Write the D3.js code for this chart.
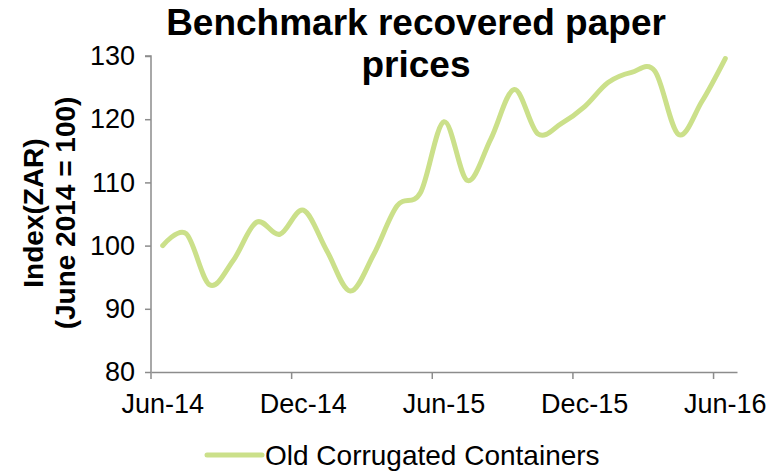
<!DOCTYPE html>
<html lang="en">
  <head>
    <meta charset="UTF-8" />
    <title>Benchmark recovered paper prices</title>
    <script src="https://d3js.org/d3.v7.min.js"></script>
    <style>
      body {
        margin: 0;
        background: #fff;
        font-family: "Liberation Sans", Arial, sans-serif;
      }
      .axis path,
      .axis line {
        stroke: #8c8c8c;
        stroke-width: 1.5px;
      }
      .axis text {
        font-family: "Liberation Sans", Arial, sans-serif;
        font-size: 27px;
        fill: #000;
      }
    </style>
  </head>
  <body>
    <svg id="chart" width="782" height="473"></svg>
    <script>
      // Months from Jun-14 to Jun-16
      const months = [
        "Jun-14", "Jul-14", "Aug-14", "Sep-14", "Oct-14", "Nov-14", "Dec-14",
        "Jan-15", "Feb-15", "Mar-15", "Apr-15", "May-15", "Jun-15",
        "Jul-15", "Aug-15", "Sep-15", "Oct-15", "Nov-15", "Dec-15",
        "Jan-16", "Feb-16", "Mar-16", "Apr-16", "May-16", "Jun-16",
      ];

      // Old Corrugated Containers index (June 2014 = 100)
      const occ = [
        100, 101.9, 93.8, 97.6, 103.7, 101.8, 105.6, 99.2, 92.8, 98.6, 106.3,
        108.4, 119.6, 110.3, 116.9, 124.7, 117.7, 119.3, 122.0, 125.8, 127.4,
        127.6, 117.6, 122.8, 129.6,
      ];

      const xLabels = ["Jun-14", "Dec-14", "Jun-15", "Dec-15", "Jun-16"];
      const yTicks = [80, 90, 100, 110, 120, 130];
      const seriesName = "Old Corrugated Containers";

      const svg = d3.select("#chart");
      const margin = { top: 56, right: 45, bottom: 101, left: 151 };
      const width = +svg.attr("width");
      const height = +svg.attr("height");

      const x = d3
        .scaleBand()
        .domain(months)
        .range([margin.left, width - margin.right])
        .padding(0);

      const y = d3
        .scaleLinear()
        .domain([80, 130])
        .range([height - margin.bottom, margin.top]);

      // Title
      svg
        .append("text")
        .attr("text-anchor", "middle")
        .style("font-size", "37px")
        .style("font-weight", "bold")
        .selectAll("tspan")
        .data(["Benchmark recovered paper", "prices"])
        .join("tspan")
        .attr("x", 416)
        .attr("y", (d, i) => 35 + i * 42)
        .text((d) => d);

      // Y axis
      svg
        .append("g")
        .attr("class", "axis")
        .attr("transform", `translate(${margin.left},0)`)
        .call(d3.axisLeft(y).tickValues(yTicks).tickSize(6).tickPadding(10))
        .call((g) => g.select(".domain").attr("d", `M-6,${y(130)}H0V${y(80)}`));

      // X axis: labels at category centre, tick marks at category boundary
      const xAxis = svg
        .append("g")
        .attr("class", "axis")
        .attr("transform", `translate(0,${y(80)})`)
        .call(
          d3.axisBottom(x).tickValues(xLabels).tickSize(7).tickSizeOuter(0).tickPadding(15)
        );
      xAxis
        .selectAll(".tick line")
        .attr("x1", -x.bandwidth() / 2)
        .attr("x2", -x.bandwidth() / 2);

      // Y axis title
      svg
        .append("text")
        .attr("transform", `translate(0,213) rotate(-90)`)
        .attr("text-anchor", "middle")
        .style("font-size", "28px")
        .style("font-weight", "bold")
        .selectAll("tspan")
        .data(["Index(ZAR)", "(June 2014 = 100)"])
        .join("tspan")
        .attr("x", 0)
        .attr("y", (d, i) => 43 + i * 32)
        .text((d) => d);

      // Smoothed line
      const line = d3
        .line()
        .x((d, i) => x(months[i]) + x.bandwidth() / 2)
        .y((d) => y(d))
        .curve(d3.curveCatmullRom.alpha(0));

      svg
        .append("path")
        .datum(occ)
        .attr("fill", "none")
        .attr("stroke", "#cbe08a")
        .attr("stroke-width", 5)
        .attr("stroke-linecap", "round")
        .attr("d", line);

      // Legend
      const legend = svg.append("g").attr("transform", "translate(207,455)");
      legend
        .append("line")
        .attr("x1", 0)
        .attr("x2", 55)
        .attr("stroke", "#cbe08a")
        .attr("stroke-width", 5)
        .attr("stroke-linecap", "round");
      legend
        .append("text")
        .attr("x", 58)
        .attr("y", 10)
        .style("font-size", "28px")
        .text(seriesName);
    </script>
  </body>
</html>
